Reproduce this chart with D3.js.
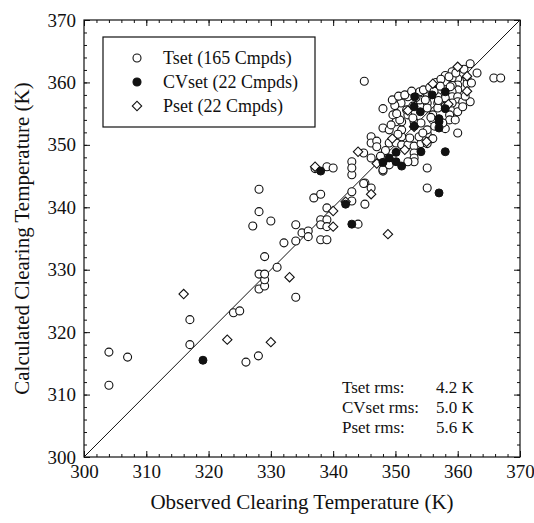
<!DOCTYPE html>
<html>
<head>
<meta charset="utf-8">
<script src="https://cdn.jsdelivr.net/npm/d3@7"></script>
<style>
  body { margin: 0; background: #fff; }
  text { font-family: "Liberation Serif", "Times New Roman", serif; fill: #111; }
</style>
</head>
<body>
<figure id="chart" style="margin:0"></figure>
<script>
// observed / calculated clearing temperatures (K)
const tsetObs = [304, 304, 307, 317, 317, 324, 325, 326, 328, 328.1, 329, 329, 328.1, 329, 329, 331, 334, 332.1, 334,
  328.1, 328.1, 330, 327.1, 334, 335, 336, 336,
  336.9, 338, 338, 339, 338, 339, 338, 339, 339, 344, 343, 345.1, 343, 345.1, 346.1, 343, 348, 337.1, 339, 340,
  343, 343, 344.9, 346.1, 346.1, 346.1, 347, 347, 348, 349, 349, 350.1, 351, 351, 351, 350.1, 351, 353, 354.1,
  352, 353, 354.1, 355.1, 355.1, 355.1, 353, 353, 353, 352, 348, 349, 358, 360, 355.1, 355.1, 344.9,
  345, 362, 363.1, 365.8, 366.9, 360.7, 360, 361.5, 361.5, 358, 358, 359.1, 359.1, 360, 360, 359.1, 359.1, 359.1,
  360, 360, 360, 360, 359.1, 358, 358, 356.8, 356.8, 356.8, 355.1, 355.1, 355.1, 353.9, 353.9, 350.9, 349.9, 348,
  352, 352, 356, 356, 358.7, 358.7, 357.6, 360.8, 360.8, 362, 350.7, 349.6, 352.8,
  349.5, 350.5, 351.5, 352.6, 353.3, 354.5, 355.5, 356.5, 357.3, 358.6, 356.2, 357.2, 354.8, 352.8, 351.8, 350.2,
  349.3, 348.4, 347.6, 350.4, 352.3, 353.8, 356.3, 356, 359.6, 361.2, 362.2, 361, 359.7, 358.8, 356.9, 355.7, 354.4];
const tsetCalc = [311.5, 316.8, 316, 318, 322, 323.1, 323.4, 315.2, 316.2, 326.9, 327.4, 328.4, 329.3, 329.3, 332.1, 330.4, 325.6, 334.3, 334.6,
  342.9, 339.3, 337.8, 337, 337.2, 335.9, 336.2, 335.3,
  341.5, 342.1, 338, 338, 337.2, 336.9, 334.8, 334.8, 339.9, 337.3, 341, 340.5, 342.5, 343.9, 343.1, 345.2, 345.8, 346.2, 346.5, 346.3,
  347.3, 346.3, 348.7, 347.9, 351.3, 350.3, 350.6, 349.7, 352.7, 352.4, 350.3, 350.3, 350, 351.3, 352.4, 353.7, 353.7, 353.7, 353.5,
  350, 349.8, 350.2, 350.2, 351.8, 352.4, 348.7, 347.9, 347.3, 347.3, 346, 346.8, 352.6, 351.9, 346.3, 343.1, 343.8,
  360.2, 363, 361.5, 360.7, 360.7, 361.4, 360.6, 360.6, 359.8, 361.1, 360.1, 361.7, 360.7, 359.6, 358.8, 359.5, 358.5, 357.7,
  357.7, 356.9, 356.1, 355.3, 356.7, 357.5, 356.2, 357.7, 356.7, 355.9, 357.7, 356.7, 355.9, 358.5, 357.2, 356.7, 356.3, 355.8,
  357.7, 354.8, 354.8, 354, 354.8, 354, 353.5, 356.9, 356.1, 356.9, 354, 354.8, 354.3,
  357.2, 357.8, 358, 358.6, 357.6, 358.8, 359.2, 360, 360.5, 360.9, 358.6, 359.4, 357.2, 356.2, 355.6, 355,
  353.2, 349.1, 348.2, 351.7, 351.1, 351.3, 353, 351, 354, 357.8, 359.9, 362.1, 361.5, 359.3, 357.1, 354.4, 351.9];

const cvObs = [319.1, 338, 342, 343, 348, 349, 350.1, 350.1, 351, 353, 354.1, 357, 357, 358, 357, 353.1, 353, 354, 355.9, 358, 358, 357];
const cvCalc = [315.5, 345.8, 340.5, 337.3, 347.2, 347.9, 348.8, 347.3, 346.6, 353, 348.9, 353.7, 352.7, 348.9, 342.3, 357.7, 356.1, 355.3, 358, 358.5, 355.8, 354.2];

const psetObs = [316, 323, 330, 333, 337.1, 340, 340, 342, 344, 346.1, 348.8, 356, 360, 361.5, 353, 352, 349.5, 355, 358.5, 347, 351.5, 361.5];
const psetCalc = [326.1, 318.8, 318.4, 328.8, 346.5, 339.4, 336.9, 340.9, 348.9, 342.1, 335.7, 359.8, 362.5, 358.6, 352.9, 355.5, 351, 350.5, 356.5, 347, 349.2, 361];

const majorTicks = [300, 310, 320, 330, 340, 350, 360, 370];
const minorTicks = d3.range(300, 371, 2);

const legendLabels = ["Tset (165 Cmpds)", "CVset (22 Cmpds)", "Pset (22 Cmpds)"];
const rmsLabels = ["Tset rms:", "CVset rms:", "Pset rms:"];
const rmsValues = ["4.2 K", "5.0 K", "5.6 K"];

const margin = {top: 20, right: 14, bottom: 66, left: 84};
const width = 534 - margin.left - margin.right;
const height = 523 - margin.top - margin.bottom;

const svg = d3.select("figure#chart")
  .append("svg")
  .attr("width", 534)
  .attr("height", 523)
  .append("g")
  .attr("transform", "translate(" + margin.left + "," + margin.top + ")");

const x = d3.scaleLinear().domain([300, 370]).range([0, width]);
const y = d3.scaleLinear().domain([300, 370]).range([height, 0]);

// ticks on all four sides, pointing inward
function addAxis(axisFn, scale, ticks, size, labels, transform) {
  const g = svg.append("g")
    .attr("transform", transform)
    .call(axisFn(scale).tickValues(ticks).tickSize(-size).tickPadding(8)
      .tickFormat(labels ? d3.format("d") : ""));
  g.select(".domain").remove();
  g.selectAll("line").attr("stroke", "#111");
  g.selectAll("text").style("font-size", "19px");
  return g;
}
addAxis(d3.axisBottom, x, minorTicks, 3, false, "translate(0," + height + ")");
addAxis(d3.axisBottom, x, majorTicks, 6, true, "translate(0," + height + ")");
addAxis(d3.axisLeft, y, minorTicks, 3, false, "translate(0,0)");
addAxis(d3.axisLeft, y, majorTicks, 6, true, "translate(0,0)");
addAxis(d3.axisTop, x, minorTicks, 3, false, "translate(0,0)");
addAxis(d3.axisTop, x, majorTicks, 6, false, "translate(0,0)");
addAxis(d3.axisRight, y, minorTicks, 3, false, "translate(" + width + ",0)");
addAxis(d3.axisRight, y, majorTicks, 6, false, "translate(" + width + ",0)");

svg.append("rect")
  .attr("width", width)
  .attr("height", height)
  .attr("fill", "none")
  .attr("stroke", "#111")
  .attr("stroke-width", 1.2);

// y = x line
svg.append("line")
  .attr("x1", x(300)).attr("y1", y(300))
  .attr("x2", x(370)).attr("y2", y(370))
  .attr("stroke", "#111")
  .attr("stroke-width", 1);

const diamond = d3.symbol().type(d3.symbolSquare).size(44);

svg.selectAll(".tset")
  .data(d3.zip(tsetObs, tsetCalc))
  .enter()
  .append("circle")
  .attr("class", "tset")
  .attr("cx", d => x(d[0]))
  .attr("cy", d => y(d[1]))
  .attr("r", 4)
  .attr("fill", "#fff")
  .attr("stroke", "#111")
  .attr("stroke-width", 1.1);

svg.selectAll(".pset")
  .data(d3.zip(psetObs, psetCalc))
  .enter()
  .append("path")
  .attr("class", "pset")
  .attr("d", diamond)
  .attr("transform", d => "translate(" + x(d[0]) + "," + y(d[1]) + ") rotate(45)")
  .attr("fill", "#fff")
  .attr("stroke", "#111")
  .attr("stroke-width", 1.1);

svg.selectAll(".cvset")
  .data(d3.zip(cvObs, cvCalc))
  .enter()
  .append("circle")
  .attr("class", "cvset")
  .attr("cx", d => x(d[0]))
  .attr("cy", d => y(d[1]))
  .attr("r", 4)
  .attr("fill", "#111")
  .attr("stroke", "#111")
  .attr("stroke-width", 1);

// legend
const legend = svg.append("g").attr("transform", "translate(19,17)");
legend.append("rect")
  .attr("width", 212)
  .attr("height", 90)
  .attr("fill", "#fff")
  .attr("stroke", "#111")
  .attr("stroke-width", 1.2);
legendLabels.forEach((label, i) => {
  const cy = 21 + i * 24;
  if (i === 2) {
    legend.append("path")
      .attr("d", diamond)
      .attr("transform", "translate(34," + cy + ") rotate(45)")
      .attr("fill", "#fff").attr("stroke", "#111").attr("stroke-width", 1.1);
  } else {
    legend.append("circle")
      .attr("cx", 34).attr("cy", cy).attr("r", 4)
      .attr("fill", i === 1 ? "#111" : "#fff")
      .attr("stroke", "#111").attr("stroke-width", 1.1);
  }
  legend.append("text")
    .attr("x", 60)
    .attr("y", cy + 6)
    .style("font-size", "18px")
    .text(label);
});

// rms annotation
rmsLabels.forEach((label, i) => {
  svg.append("text")
    .attr("x", 258)
    .attr("y", 373 + i * 20)
    .style("font-size", "17px")
    .text(label);
  svg.append("text")
    .attr("x", 352)
    .attr("y", 373 + i * 20)
    .style("font-size", "17px")
    .text(rmsValues[i]);
});

// axis titles
svg.append("text")
  .attr("x", width / 2)
  .attr("y", height + 52)
  .attr("text-anchor", "middle")
  .style("font-size", "21px")
  .text("Observed Clearing Temperature (K)");

svg.append("text")
  .attr("transform", "rotate(-90)")
  .attr("x", -height / 2)
  .attr("y", -55)
  .attr("text-anchor", "middle")
  .style("font-size", "21px")
  .text("Calculated Clearing Temperature (K)");
</script>
</body>
</html>
